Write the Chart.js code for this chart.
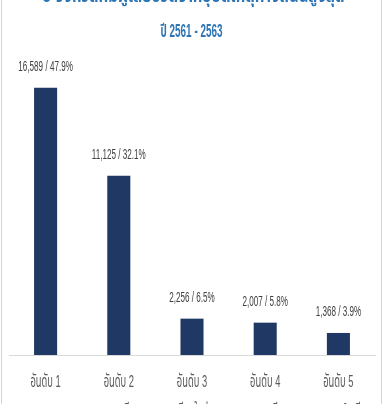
<!DOCTYPE html>
<html><head><meta charset="utf-8">
<script src="https://cdn.jsdelivr.net/npm/chart.js@4"></script>
<style>
html,body{margin:0;padding:0;background:#fff;overflow:hidden;width:383px;height:404px;}
#wrap{position:absolute;left:0;top:0;width:383px;height:404px;}
#frame{position:absolute;left:1px;top:0;width:379px;height:404px;border-left:1px solid #d4d4d4;border-right:1px solid #d4d4d4;pointer-events:none;}
</style></head>
<body>
<div id="wrap"><canvas id="c" width="383" height="404"></canvas></div>
<div id="frame"></div>
<script>
const titleLines = ['5 จังหวัดที่มีผู้เสียชีวิตจากอุบัติเหตุทางถนนสูงสุด', 'ปี 2561 - 2563'];
const rankLabels = ['อันดับ 1', 'อันดับ 2', 'อันดับ 3', 'อันดับ 4', 'อันดับ 5'];
const provinceLabels = ['กรุงเทพมหานคร', 'ชลบุรี', 'เชียงใหม่', 'นครราชสีมา', 'สุราษฎร์ธานี'];
const values = [16589, 11125, 2256, 2007, 1368];
const shares = [47.9, 32.1, 6.5, 5.8, 3.9];

const FONT = "'Liberation Sans', 'Noto Sans Thai', 'Noto Sans', sans-serif";

function squeezeText(ctx, txt, x, y, sx) {
  ctx.save();
  ctx.translate(x, y);
  ctx.scale(sx, 1);
  ctx.fillText(txt, 0, 0);
  ctx.restore();
}

const textPlugin = {
  id: 'texts',
  afterDraw(chart) {
    const ctx = chart.ctx;
    const meta = chart.getDatasetMeta(0);
    const xs = chart.scales.x;
    const area = chart.chartArea;
    ctx.save();
    ctx.textAlign = 'center';
    ctx.textBaseline = 'middle';
    // bar value labels
    ctx.font = "15px " + FONT;
    ctx.fillStyle = '#404040';
    meta.data.forEach((bar, i) => {
      const txt = values[i].toLocaleString('en-US') + ' / ' + shares[i].toFixed(1) + '%';
      squeezeText(ctx, txt, bar.x, bar.y - 21, 0.54);
    });
    // category tick labels
    ctx.font = "17px " + FONT;
    ctx.fillStyle = '#595959';
    xs.ticks.forEach((t, i) => {
      const px = xs.getPixelForTick(i);
      squeezeText(ctx, rankLabels[i], px, area.bottom + 27, 0.55);
      squeezeText(ctx, provinceLabels[i], px, area.bottom + 56, 0.55);
    });
    // title
    const cx = (chart.width) / 2;
    ctx.fillStyle = '#2e75b6';
    ctx.font = "bold 18px " + FONT;
    const w1 = ctx.measureText(titleLines[0]).width;
    squeezeText(ctx, titleLines[0], cx + 2, -3, 302 / w1);
    const w2 = ctx.measureText(titleLines[1]).width;
    squeezeText(ctx, titleLines[1], cx, 32, 62 / w2);
    ctx.restore();
  }
};

new Chart(document.getElementById('c'), {
  type: 'bar',
  data: {
    labels: rankLabels,
    datasets: [{ data: values, backgroundColor: '#1f3864', borderWidth: 0,
      categoryPercentage: 1, barPercentage: 0.315 }]
  },
  options: {
    responsive: false, animation: false,
    layout: { padding: { left: 9, right: 8, top: 65, bottom: 49 } },
    plugins: { legend: { display: false }, tooltip: { enabled: false }, title: { display: false } },
    scales: {
      x: { grid: { display: false, drawTicks: false }, border: { color: '#d9d9d9', width: 1 },
        ticks: { display: false } },
      y: { display: false, min: 0, max: 18000 }
    }
  },
  plugins: [textPlugin]
});
</script>
</body></html>
